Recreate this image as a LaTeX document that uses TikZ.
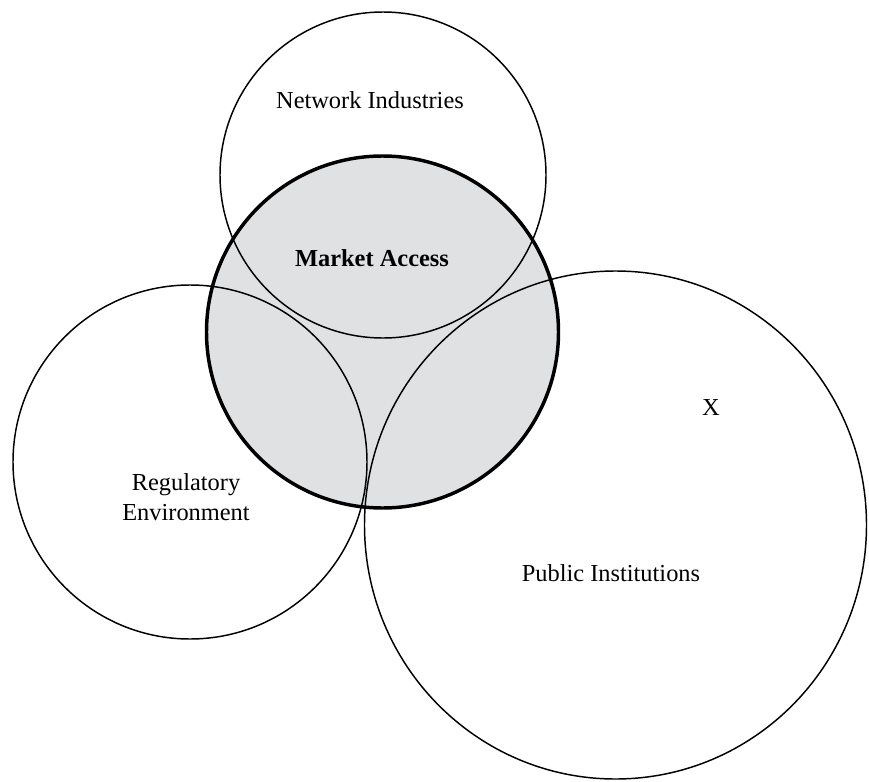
\documentclass[tikz,border=0pt]{standalone}
\usepackage{fontspec}
\setmainfont{Liberation Serif}
\definecolor{accessFill}{RGB}{224,225,227}
\tikzset{every picture/.style={line width=0.75pt}}
\begin{document}
\begin{tikzpicture}[x=0.75pt,y=0.75pt,yscale=-1,xscale=1]
\useasboundingbox (0,0) rectangle (869,782);
\tikzset{label text/.style={inner sep=0.75pt, align=center, font=\fontsize{18.3}{22}\selectfont}}

%Shape: Circle [market access fill]
\fill [accessFill] (382.5,332) circle [radius=176];
%Shape: Circle [network industries]
\draw [line width=1.1] (383,175) circle [radius=163];
%Shape: Circle [regulatory environment]
\draw [line width=1.1] (190,462) circle [radius=177];
%Shape: Ellipse [public institutions]
\draw [line width=1.1] (615.5,525) ellipse [x radius=251, y radius=254];
%Shape: Circle [market access outline]
\draw [line width=2.6] (382.5,332) circle [radius=176];

% Text Node
\node [label text] (netind) at (370,100) {Network Industries};
% Text Node
\node [label text, font=\fontsize{18.3}{22}\selectfont\bfseries] (mktacc) at (372,258) {Market Access};
% Text Node
\node [label text] (regenv) at (186,497) {Regulatory\\Environment};
% Text Node
\node [label text] (xmark) at (711,408) {X};
% Text Node
\node [label text] (pubinst) at (611,573) {Public Institutions};

\end{tikzpicture}
\end{document}
